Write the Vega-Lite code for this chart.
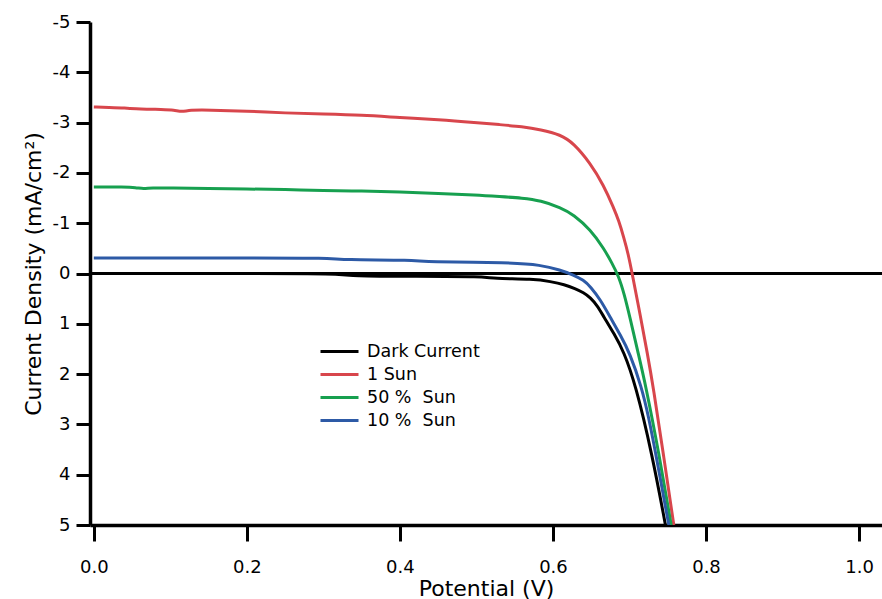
{
  "$schema": "https://vega.github.io/schema/vega-lite/v6.json",
  "autosize": {"type": "none"},
  "padding": {"left": 90, "top": 22, "right": 0, "bottom": 74},
  "width": 792,
  "height": 503,
  "background": "white",
  "config": {
    "view": {"stroke": null},
    "font": "DejaVu Sans",
    "axis": {"grid": false, "domainColor": "#000", "tickColor": "#000", "labelColor": "#000", "titleColor": "#000", "labelFont": "DejaVu Sans", "titleFont": "DejaVu Sans", "titleFontWeight": "normal"}
  },
  "layer": [
    {
      "data": {"values": [{"y0": 0}]},
      "mark": {"type": "rule", "color": "#000", "strokeWidth": 3},
      "encoding": {"y": {"field": "y0", "type": "quantitative", "scale": {"domain": [-5, 5], "reverse": true, "nice": false, "zero": false}}}
    },
    {
      "data": {"values": [
        {"V": 0, "J": 0, "s": "Dark Current"},
        {"V": 0.1, "J": 0, "s": "Dark Current"},
        {"V": 0.2, "J": 0, "s": "Dark Current"},
        {"V": 0.32, "J": 0, "s": "Dark Current"},
        {"V": 0.335, "J": 0.05, "s": "Dark Current"},
        {"V": 0.42, "J": 0.055, "s": "Dark Current"},
        {"V": 0.51, "J": 0.06, "s": "Dark Current"},
        {"V": 0.52, "J": 0.1, "s": "Dark Current"},
        {"V": 0.575, "J": 0.11, "s": "Dark Current"},
        {"V": 0.597, "J": 0.16, "s": "Dark Current"},
        {"V": 0.615, "J": 0.22, "s": "Dark Current"},
        {"V": 0.629, "J": 0.3, "s": "Dark Current"},
        {"V": 0.64, "J": 0.38, "s": "Dark Current"},
        {"V": 0.649, "J": 0.48, "s": "Dark Current"},
        {"V": 0.658, "J": 0.64, "s": "Dark Current"},
        {"V": 0.666, "J": 0.85, "s": "Dark Current"},
        {"V": 0.68, "J": 1.2, "s": "Dark Current"},
        {"V": 0.6925, "J": 1.55, "s": "Dark Current"},
        {"V": 0.7078, "J": 2.2, "s": "Dark Current"},
        {"V": 0.7297, "J": 3.6, "s": "Dark Current"},
        {"V": 0.747, "J": 5.0, "s": "Dark Current"},

        {"V": 0, "J": -3.31, "s": "1 Sun"},
        {"V": 0.02, "J": -3.3, "s": "1 Sun"},
        {"V": 0.04, "J": -3.29, "s": "1 Sun"},
        {"V": 0.06, "J": -3.27, "s": "1 Sun"},
        {"V": 0.09, "J": -3.26, "s": "1 Sun"},
        {"V": 0.105, "J": -3.25, "s": "1 Sun"},
        {"V": 0.115, "J": -3.21, "s": "1 Sun"},
        {"V": 0.125, "J": -3.25, "s": "1 Sun"},
        {"V": 0.15, "J": -3.25, "s": "1 Sun"},
        {"V": 0.2, "J": -3.23, "s": "1 Sun"},
        {"V": 0.25, "J": -3.19, "s": "1 Sun"},
        {"V": 0.3, "J": -3.17, "s": "1 Sun"},
        {"V": 0.35, "J": -3.15, "s": "1 Sun"},
        {"V": 0.4, "J": -3.1, "s": "1 Sun"},
        {"V": 0.45, "J": -3.06, "s": "1 Sun"},
        {"V": 0.5, "J": -3.0, "s": "1 Sun"},
        {"V": 0.53, "J": -2.96, "s": "1 Sun"},
        {"V": 0.56, "J": -2.92, "s": "1 Sun"},
        {"V": 0.584, "J": -2.86, "s": "1 Sun"},
        {"V": 0.61, "J": -2.76, "s": "1 Sun"},
        {"V": 0.627, "J": -2.59, "s": "1 Sun"},
        {"V": 0.649, "J": -2.19, "s": "1 Sun"},
        {"V": 0.666, "J": -1.76, "s": "1 Sun"},
        {"V": 0.6795, "J": -1.3, "s": "1 Sun"},
        {"V": 0.686, "J": -1.05, "s": "1 Sun"},
        {"V": 0.6925, "J": -0.72, "s": "1 Sun"},
        {"V": 0.6985, "J": -0.38, "s": "1 Sun"},
        {"V": 0.7035, "J": 0.0, "s": "1 Sun"},
        {"V": 0.714, "J": 0.82, "s": "1 Sun"},
        {"V": 0.7235, "J": 1.6, "s": "1 Sun"},
        {"V": 0.731, "J": 2.25, "s": "1 Sun"},
        {"V": 0.7444, "J": 3.6, "s": "1 Sun"},
        {"V": 0.7579, "J": 5.0, "s": "1 Sun"},

        {"V": 0, "J": -1.72, "s": "50 %\u00a0 Sun"},
        {"V": 0.04, "J": -1.72, "s": "50 %\u00a0 Sun"},
        {"V": 0.055, "J": -1.71, "s": "50 %\u00a0 Sun"},
        {"V": 0.065, "J": -1.68, "s": "50 %\u00a0 Sun"},
        {"V": 0.075, "J": -1.705, "s": "50 %\u00a0 Sun"},
        {"V": 0.1, "J": -1.7, "s": "50 %\u00a0 Sun"},
        {"V": 0.15, "J": -1.69, "s": "50 %\u00a0 Sun"},
        {"V": 0.2, "J": -1.68, "s": "50 %\u00a0 Sun"},
        {"V": 0.25, "J": -1.67, "s": "50 %\u00a0 Sun"},
        {"V": 0.3, "J": -1.65, "s": "50 %\u00a0 Sun"},
        {"V": 0.35, "J": -1.64, "s": "50 %\u00a0 Sun"},
        {"V": 0.4, "J": -1.62, "s": "50 %\u00a0 Sun"},
        {"V": 0.45, "J": -1.59, "s": "50 %\u00a0 Sun"},
        {"V": 0.5, "J": -1.56, "s": "50 %\u00a0 Sun"},
        {"V": 0.53, "J": -1.53, "s": "50 %\u00a0 Sun"},
        {"V": 0.56, "J": -1.5, "s": "50 %\u00a0 Sun"},
        {"V": 0.584, "J": -1.45, "s": "50 %\u00a0 Sun"},
        {"V": 0.61, "J": -1.31, "s": "50 %\u00a0 Sun"},
        {"V": 0.627, "J": -1.17, "s": "50 %\u00a0 Sun"},
        {"V": 0.649, "J": -0.87, "s": "50 %\u00a0 Sun"},
        {"V": 0.6664, "J": -0.5, "s": "50 %\u00a0 Sun"},
        {"V": 0.6774, "J": -0.2, "s": "50 %\u00a0 Sun"},
        {"V": 0.686, "J": 0.06, "s": "50 %\u00a0 Sun"},
        {"V": 0.693, "J": 0.4, "s": "50 %\u00a0 Sun"},
        {"V": 0.7004, "J": 0.86, "s": "50 %\u00a0 Sun"},
        {"V": 0.7108, "J": 1.55, "s": "50 %\u00a0 Sun"},
        {"V": 0.7209, "J": 2.2, "s": "50 %\u00a0 Sun"},
        {"V": 0.7388, "J": 3.6, "s": "50 %\u00a0 Sun"},
        {"V": 0.7545, "J": 5.0, "s": "50 %\u00a0 Sun"},

        {"V": 0, "J": -0.31, "s": "10 %\u00a0 Sun"},
        {"V": 0.1, "J": -0.31, "s": "10 %\u00a0 Sun"},
        {"V": 0.2, "J": -0.31, "s": "10 %\u00a0 Sun"},
        {"V": 0.31, "J": -0.31, "s": "10 %\u00a0 Sun"},
        {"V": 0.322, "J": -0.27, "s": "10 %\u00a0 Sun"},
        {"V": 0.42, "J": -0.27, "s": "10 %\u00a0 Sun"},
        {"V": 0.432, "J": -0.225, "s": "10 %\u00a0 Sun"},
        {"V": 0.545, "J": -0.22, "s": "10 %\u00a0 Sun"},
        {"V": 0.5837, "J": -0.17, "s": "10 %\u00a0 Sun"},
        {"V": 0.6098, "J": -0.07, "s": "10 %\u00a0 Sun"},
        {"V": 0.627, "J": 0.03, "s": "10 %\u00a0 Sun"},
        {"V": 0.64, "J": 0.13, "s": "10 %\u00a0 Sun"},
        {"V": 0.649, "J": 0.26, "s": "10 %\u00a0 Sun"},
        {"V": 0.662, "J": 0.52, "s": "10 %\u00a0 Sun"},
        {"V": 0.6752, "J": 0.88, "s": "10 %\u00a0 Sun"},
        {"V": 0.688, "J": 1.22, "s": "10 %\u00a0 Sun"},
        {"V": 0.7004, "J": 1.58, "s": "10 %\u00a0 Sun"},
        {"V": 0.7157, "J": 2.25, "s": "10 %\u00a0 Sun"},
        {"V": 0.725, "J": 2.85, "s": "10 %\u00a0 Sun"},
        {"V": 0.734, "J": 3.55, "s": "10 %\u00a0 Sun"},
        {"V": 0.7514, "J": 5.0, "s": "10 %\u00a0 Sun"}
      ]},
      "mark": {"type": "line", "strokeWidth": 3, "clip": true, "interpolate": "basis"},
      "encoding": {
        "x": {
          "field": "V", "type": "quantitative",
          "scale": {"domain": [-0.005, 1.03], "nice": false, "zero": false},
          "axis": {
            "title": "Potential (V)", "values": [0, 0.2, 0.4, 0.6, 0.8, 1.0], "format": ".1f",
            "domainWidth": 3.5, "tickWidth": 3, "tickSize": 16,
            "labelFontSize": 18, "labelBaseline": "alphabetic", "labelPadding": 31,
            "titleFontSize": 22, "titleBaseline": "alphabetic", "titleY": 70
          }
        },
        "y": {
          "field": "J", "type": "quantitative",
          "scale": {"domain": [-5, 5], "reverse": true, "nice": false, "zero": false},
          "axis": {
            "title": "Current Density (mA/cm²)", "values": [-5, -4, -3, -2, -1, 0, 1, 2, 3, 4, 5],
            "labelExpr": "'' + datum.value",
            "domainWidth": 3.5, "tickWidth": 3, "tickSize": 14,
            "labelFontSize": 18, "labelPadding": 6, "labelBaseline": "middle",
            "titleFontSize": 22, "titleBaseline": "alphabetic", "titleX": -50
          }
        },
        "color": {
          "field": "s", "type": "nominal",
          "scale": {"domain": ["Dark Current", "1 Sun", "50 %\u00a0 Sun", "10 %\u00a0 Sun"], "range": ["#000000", "#d8464c", "#17a04f", "#2d5aa6"]},
          "legend": {
            "title": null, "orient": "none", "legendX": 229, "legendY": 318,
            "symbolType": "stroke", "symbolSize": 1444, "symbolStrokeWidth": 3,
            "labelFontSize": 17.5, "labelFont": "DejaVu Sans", "labelColor": "#000", "labelOffset": 7,
            "clipHeight": 23, "rowPadding": 0, "padding": 0
          }
        }
      }
    }
  ]
}
